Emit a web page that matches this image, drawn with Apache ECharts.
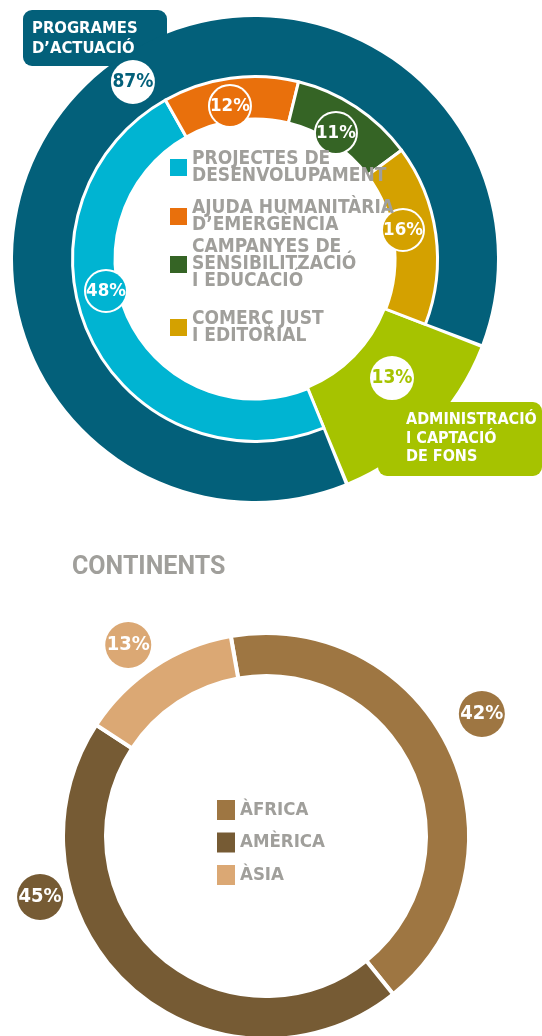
<!DOCTYPE html>
<html>
<head>
<meta charset="utf-8">
<title>Destinació dels recursos</title>
<script src="https://cdn.jsdelivr.net/npm/echarts@6/dist/echarts.min.js"></script>
<style>
  html, body { margin: 0; padding: 0; background: #fff; }
  #chart { width: 542px; height: 1036px; }
</style>
</head>
<body>
<div id="chart"></div>
<script>
// dades
const blocs = ['PROGRAMES\nD’ACTUACIÓ', 'ADMINISTRACIÓ\nI CAPTACIÓ\nDE FONS'];
const blocValues = [87, 13];
const programes = [
  'PROJECTES DE\nDESENVOLUPAMENT',
  'AJUDA HUMANITÀRIA\nD’EMERGÈNCIA',
  'CAMPANYES DE\nSENSIBILITZACIÓ\nI EDUCACIÓ',
  'COMERÇ JUST\nI EDITORIAL'
];
const programeValues = [48, 12, 11, 16];
const continents = ['ÀFRICA', 'AMÈRICA', 'ÀSIA'];
const continentValues = [42, 45, 13];

// colors
const blocColors = ['#03607a', '#a6c300'];
const programeColors = ['#00b4d2', '#e9700c', '#356425', '#d4a100'];
const continentColors = ['#9e7642', '#765b34', '#dba874'];
const GREY = '#a09f9b';
const FONT = '"DejaVu Sans Condensed", "Liberation Sans Narrow", sans-serif';

// where the percentage bubbles sit: [angle in degrees, radius] from the pie centre
const topCenter = [255, 259];
const bottomCenter = [266, 836];
const blocSpots = [[124.6, 215], [-41, 181.5]];
const programeSpots = [[192.1, 152.4], [99.3, 155], [57.3, 149.8], [11.1, 150.8]];
const continentSpots = [[29.5, 248], [195.1, 234], [125.8, 235.5]];

function place(center, spots) {
  return function (p) {
    const s = spots[p.dataIndex];
    if (!s) return {};
    const a = s[0] * Math.PI / 180;
    return { x: center[0] + s[1] * Math.cos(a), y: center[1] - s[1] * Math.sin(a) };
  };
}

function bubble(size, fontSize) {
  return {
    show: true,
    position: 'inside',
    formatter: '{c}%',
    color: '#fff',
    fontFamily: FONT,
    fontWeight: 'bold',
    fontSize: fontSize,
    width: size,
    height: size,
    lineHeight: size,
    overflow: 'none',
    align: 'center',
    borderRadius: size / 2
  };
}

const chart = echarts.init(document.getElementById('chart'));

const legendTops = [159, 208, 256, 319];
const topLegends = programes.map(function (name, i) {
  const pad = (name.split('\n').length - 1) * 17;
  return {
    data: [name],
    orient: 'vertical',
    left: 170,
    top: legendTops[i] - pad,
    padding: 0,
    icon: 'rect',
    itemWidth: 17,
    itemHeight: 17,
    selectedMode: false,
    itemStyle: { borderWidth: 0 },
    textStyle: {
      fontFamily: FONT,
      fontWeight: 'bold',
      fontSize: 19,
      lineHeight: 17,
      color: GREY,
      padding: [pad, 0, 0, 0]
    }
  };
});

const option = {
  animation: false,
  backgroundColor: '#fff',
  title: {
    text: 'CONTINENTS',
    left: 72,
    top: 555,
    padding: 0,
    textStyle: { fontFamily: 'Roboto', fontWeight: 'bold', fontSize: 25, color: GREY }
  },
  legend: topLegends.concat([{
    data: continents,
    orient: 'vertical',
    left: 217,
    top: 800,
    padding: 0,
    icon: 'rect',
    itemWidth: 18,
    itemHeight: 20,
    itemGap: 12.5,
    selectedMode: false,
    itemStyle: { borderWidth: 0 },
    textStyle: { fontFamily: FONT, fontWeight: 'bold', fontSize: 18.5, lineHeight: 20, color: GREY }
  }]),
  graphic: [
    { type: 'rect', left: 23, top: 10, z: 0, shape: { width: 144, height: 56, r: 9 }, style: { fill: blocColors[0] } },
    { type: 'rect', left: 378, top: 402, z: 0, shape: { width: 164, height: 74, r: 9 }, style: { fill: blocColors[1] } },
    { type: 'text', left: 32, top: 19, z: 10,
      style: { text: blocs[0], fill: '#fff', font: 'bold 16.5px ' + FONT, lineHeight: 20 } },
    { type: 'text', left: 406, top: 411, z: 10,
      style: { text: blocs[1], fill: '#fff', font: 'bold 16px ' + FONT, lineHeight: 18.5 } }
  ],
  series: [
    {
      name: 'blocs',
      type: 'pie',
      z: 2,
      center: topCenter,
      radius: [140, 242],
      startAngle: -67.8,
      padAngle: 0.9,
      avoidLabelOverlap: false,
      emphasis: { disabled: true },
      labelLine: { show: false },
      label: bubble(44, 19),
      labelLayout: place(topCenter, blocSpots),
      data: blocs.map(function (name, i) {
        return {
          name: name,
          value: blocValues[i],
          itemStyle: { color: blocColors[i] },
          label: { backgroundColor: '#fff', color: blocColors[i] }
        };
      })
    },
    {
      name: 'programes',
      type: 'pie',
      z: 3,
      center: topCenter,
      radius: [140, 182.5],
      startAngle: -67.8,
      avoidLabelOverlap: false,
      emphasis: { disabled: true },
      itemStyle: { borderColor: '#fff', borderWidth: 3 },
      labelLine: { show: false },
      label: Object.assign(bubble(40, 18.5), { borderColor: '#fff', borderWidth: 2 }),
      labelLayout: place(topCenter, programeSpots),
      data: programes.map(function (name, i) {
        return {
          name: name,
          value: programeValues[i],
          itemStyle: { color: programeColors[i] },
          label: { backgroundColor: programeColors[i] }
        };
      }).concat([{
        name: 'resta',
        value: blocValues[1],
        itemStyle: { color: 'transparent', borderWidth: 0 },
        label: { show: false }
      }])
    },
    {
      name: 'continents',
      type: 'pie',
      center: bottomCenter,
      radius: [160, 203],
      startAngle: 100,
      avoidLabelOverlap: false,
      emphasis: { disabled: true },
      itemStyle: { borderColor: '#fff', borderWidth: 4 },
      labelLine: { show: false },
      label: bubble(46, 20),
      labelLayout: place(bottomCenter, continentSpots),
      data: continents.map(function (name, i) {
        return {
          name: name,
          value: continentValues[i],
          itemStyle: { color: continentColors[i] },
          label: { backgroundColor: continentColors[i] }
        };
      })
    }
  ]
};

chart.setOption(option);
</script>
</body>
</html>
